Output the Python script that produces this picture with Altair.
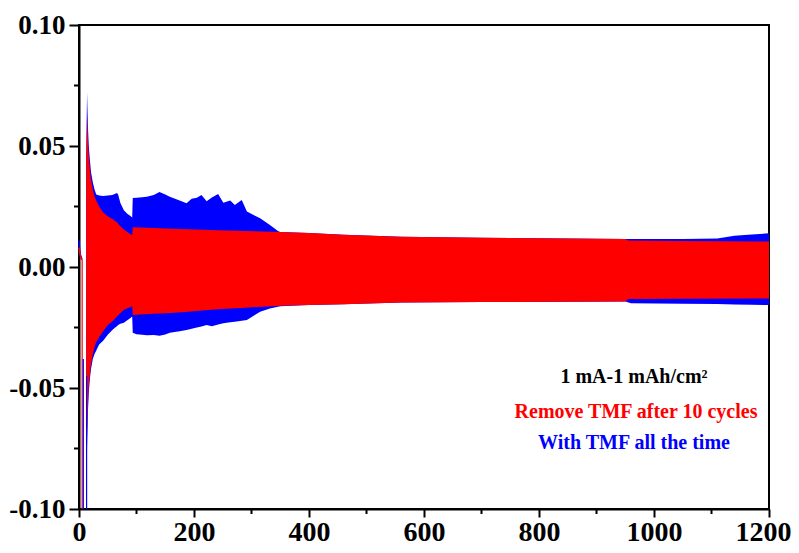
import altair as alt
import pandas as pd

# ---------------- data ----------------
# initial short trace before the cells start cycling
init_x = [0, 1, 2, 3, 4, 5]
init_blue = [0.011, 0.007, 0.0055, 0.0045, 0.004, 0.003]
init_red = [0.008, 0.0065, 0.005, 0.004, 0.0035, 0.003]

# vertical excursions at the beginning (x, top, bottom)
drop_red_x = [5.5]
drop_red_top = [0.003]
drop_red_bot = [-0.10]
drop_blue_x = [7.5, 13.2]
drop_blue_top = [-0.038, -0.045]
drop_blue_bot = [-0.10, -0.10]

# envelope of "With TMF all the time" (blue)
blue_x = [12.5, 14.0, 15.5, 17, 19, 21, 24, 27, 30, 35, 42, 50, 58, 63, 66, 68,
          72, 78, 84, 90, 92.5, 93.5, 100, 110, 118, 130, 140, 150, 158, 175,
          187, 196, 205, 213, 222, 231, 242, 251, 263, 271, 283, 292, 315, 332,
          346, 350, 400, 460, 560, 700, 850, 950, 960, 1050, 1110, 1140, 1170, 1200]
blue_up = [0.045, 0.072, 0.058, 0.050, 0.044, 0.039, 0.035, 0.032, 0.0300, 0.0295,
           0.0293, 0.0295, 0.0298, 0.0303, 0.0306, 0.0300, 0.0264, 0.0235, 0.0220,
           0.0210, 0.0205, 0.0285, 0.0286, 0.0288, 0.0290, 0.0298, 0.0310, 0.0300,
           0.0290, 0.0275, 0.0263, 0.0282, 0.0286, 0.0298, 0.0272, 0.0287, 0.0302,
           0.0265, 0.0275, 0.0256, 0.0277, 0.0229, 0.0201, 0.0174, 0.0149, 0.0145,
           0.0140, 0.0133, 0.0125, 0.0121, 0.0118, 0.0116, 0.0116, 0.0116, 0.0118,
           0.0129, 0.0134, 0.0139]
blue_lo = [-0.100, -0.075, -0.060, -0.052, -0.046, -0.042, -0.038, -0.036, -0.0345,
           -0.032, -0.0305, -0.028, -0.026, -0.025, -0.0245, -0.024, -0.0235, -0.023,
           -0.022, -0.021, -0.0205, -0.0272, -0.0278, -0.0280, -0.0282, -0.0281,
           -0.0284, -0.0279, -0.0272, -0.0266, -0.0260, -0.0255, -0.0250, -0.0246,
           -0.0240, -0.0245, -0.0238, -0.0232, -0.0228, -0.0226, -0.0222, -0.0219,
           -0.0185, -0.0172, -0.0164, -0.0162, -0.0157, -0.0154, -0.0147, -0.0145,
           -0.0144, -0.0143, -0.0150, -0.0152, -0.0153, -0.0155, -0.0156, -0.0157]

# envelope of "Remove TMF after 10 cycles" (red)
red_x = [12.5, 14.0, 15.5, 17, 19, 21, 24, 27, 30, 35, 42, 50, 58, 66, 72, 78, 84,
         90, 92.5, 93.5, 120, 160, 190, 240, 290, 350, 400, 460, 560, 700, 850,
         950, 955, 1050, 1200]
red_up = [0.044, 0.063, 0.053, 0.046, 0.040, 0.036, 0.032, 0.029, 0.0275, 0.025,
          0.0225, 0.021, 0.0198, 0.0185, 0.0168, 0.0155, 0.0145, 0.0135, 0.0132,
          0.0164, 0.0162, 0.0158, 0.0156, 0.0152, 0.0149, 0.0145, 0.0140, 0.0133,
          0.0125, 0.0121, 0.0118, 0.0116, 0.0110, 0.0107, 0.0105]
red_lo = [-0.082, -0.070, -0.057, -0.049, -0.044, -0.040, -0.036, -0.033, -0.031,
          -0.029, -0.0265, -0.024, -0.0225, -0.0205, -0.0190, -0.0178, -0.0170,
          -0.0165, -0.0160, -0.0198, -0.0194, -0.0190, -0.0185, -0.0175, -0.0168,
          -0.0160, -0.0157, -0.0154, -0.0147, -0.0145, -0.0144, -0.0143, -0.0132,
          -0.0131, -0.0130]

x_ticks = [0, 200, 400, 600, 800, 1000, 1200]
x_minor = [100, 300, 500, 700, 900, 1100]
y_ticks = [-0.10, -0.05, 0.00, 0.05, 0.10]
y_minor = [-0.075, -0.025, 0.025, 0.075]

notes = ["1 mA-1 mAh/cm\u00b2", "Remove TMF after 10 cycles", "With TMF  all the time"]
note_colors = ["#000000", "#FF0000", "#0000FF"]

# ---------------- chart ----------------
W, H = 690, 484
BLUE, RED = "#0000FF", "#FF0000"
FONT = "Liberation Serif"

xs = alt.Scale(domain=[0, 1200], nice=False, zero=False)
ys = alt.Scale(domain=[-0.10, 0.10], nice=False, zero=False)

common = dict(title=None, grid=False, labelFont=FONT, labelFontWeight="bold",
              labelColor="black", domainColor="black", domainWidth=2,
              tickColor="black", tickWidth=2, labelFlush=False, labelOverlap=False)
x_axis = alt.Axis(values=x_ticks, format="d", tickSize=8, labelPadding=1,
                  labelFontSize=28,
                  labelOffset={"condition": {"test": "datum.value >= 1200", "value": -6},
                               "value": 0},
                  **common)
y_axis = alt.Axis(values=y_ticks, format=".2f", tickSize=10, labelPadding=4,
                  labelFontSize=27,
                  labelExpr="replace(datum.label, '\u2212', '-')", **common)

blue_df = pd.DataFrame({"x": blue_x, "up": blue_up, "lo": blue_lo})
red_df = pd.DataFrame({"x": red_x, "up": red_up, "lo": red_lo})
init_df = pd.DataFrame({"x": init_x + init_x,
                        "v": init_blue + init_red,
                        "s": ["b"] * len(init_x) + ["r"] * len(init_x)})

blue_area = alt.Chart(blue_df).mark_area(color=BLUE, opacity=1, strokeWidth=0).encode(
    x=alt.X("x:Q", scale=xs, axis=x_axis),
    y=alt.Y("up:Q", scale=ys, axis=y_axis),
    y2="lo:Q",
)
red_area = alt.Chart(red_df).mark_area(color=RED, opacity=1, strokeWidth=0).encode(
    x=alt.X("x:Q", scale=xs), y=alt.Y("up:Q", scale=ys), y2="lo:Q")

init_blue_line = alt.Chart(init_df[init_df.s == "b"]).mark_line(
    color=BLUE, strokeWidth=1.5).encode(x=alt.X("x:Q", scale=xs), y=alt.Y("v:Q", scale=ys))
init_red_line = alt.Chart(init_df[init_df.s == "r"]).mark_line(
    color=RED, strokeWidth=1.5).encode(x=alt.X("x:Q", scale=xs), y=alt.Y("v:Q", scale=ys))

red_drop = alt.Chart(pd.DataFrame({"x": drop_red_x, "t": drop_red_top, "b": drop_red_bot})
                     ).mark_rule(color=RED, strokeWidth=1.2).encode(
    x=alt.X("x:Q", scale=xs), y=alt.Y("t:Q", scale=ys), y2="b:Q")
blue_drop = alt.Chart(pd.DataFrame({"x": drop_blue_x, "t": drop_blue_top, "b": drop_blue_bot})
                      ).mark_rule(color=BLUE, strokeWidth=1.2).encode(
    x=alt.X("x:Q", scale=xs), y=alt.Y("t:Q", scale=ys), y2="b:Q")

xminor = alt.Chart(pd.DataFrame({"x": x_minor})).mark_rule(
    color="black", strokeWidth=2).encode(
    x=alt.X("x:Q", scale=xs), y=alt.value(H), y2=alt.value(H + 5))
yminor = alt.Chart(pd.DataFrame({"y": y_minor})).mark_rule(
    color="black", strokeWidth=2).encode(
    y=alt.Y("y:Q", scale=ys), x=alt.value(0), x2=alt.value(-5))

note_pos = [(555, 352), (557, 387), (555, 418)]
note_layers = []
for txt, col, (px, py) in zip(notes, note_colors, note_pos):
    note_layers.append(
        alt.Chart(pd.DataFrame({"t": [txt]})).mark_text(
            font=FONT, fontWeight="bold", fontSize=20, color=col,
            align="center", baseline="middle").encode(
            text="t:N", x=alt.value(px), y=alt.value(py))
    )

chart = alt.layer(
    blue_area, init_blue_line, red_area, init_red_line, red_drop, blue_drop,
    xminor, yminor, *note_layers
).properties(
    width=W, height=H,
    background="white",
    autosize=alt.AutoSizeParams(type="none"),
    padding={"left": 71, "top": 17, "right": 22, "bottom": 36},
).configure_view(
    stroke="black", strokeWidth=2
)

chart.save("out.html", embed_options={"renderer": "svg", "actions": False})
